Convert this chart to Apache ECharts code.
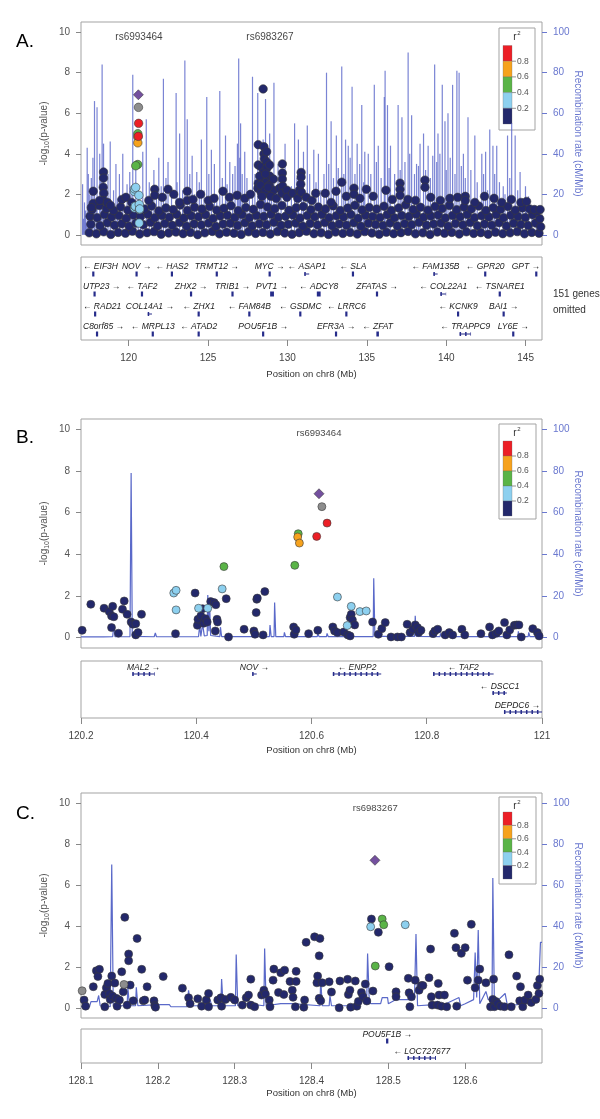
<!DOCTYPE html>
<html>
<head>
<meta charset="utf-8">
<script src="https://cdn.jsdelivr.net/npm/echarts@6/dist/echarts.min.js"></script>
<style>
html, body { margin: 0; padding: 0; background: #fff; }
#main { width: 600px; height: 1119px; }
</style>
</head>
<body>
<div id="main"></div>
<script>
// ---------- data: panel A (chr8 117-146 Mb) ----------
var aNavyRow1 = [[117.52,.10],[117.97,.05],[118.43,.15],[118.88,.02],[119.34,.12],[119.80,.08],[120.24,.18],[120.70,.04],[121.16,.11],[121.60,.16],[122.05,.03],[122.52,.09],[122.98,.14],[123.43,.06],[123.89,.12],[124.35,.01],[124.80,.10],[125.27,.17],[125.72,.05],[126.17,.13],[126.63,.08],[127.09,.02],[127.55,.15],[128.00,.07],[128.46,.12],[128.92,.04],[129.38,.16],[129.83,.09],[130.29,.03],[130.74,.11],[131.20,.18],[131.67,.06],[132.12,.10],[132.58,.02],[133.03,.14],[133.49,.07],[133.95,.12],[134.40,.04],[134.87,.16],[135.32,.09],[135.78,.03],[136.23,.13],[136.69,.06],[137.15,.11],[137.60,.17],[138.06,.05],[138.53,.10],[138.98,.02],[139.44,.14],[139.89,.08],[140.35,.12],[140.82,.04],[141.27,.15],[141.73,.07],[142.18,.11],[142.64,.03],[143.10,.13],[143.56,.06],[144.02,.10],[144.47,.16],[144.93,.05],[145.39,.12],[145.84,.08]];
var aNavyRow2 = [[117.62,.52],[118.20,.45],[118.66,.60],[119.11,.48],[119.57,.55],[120.03,.42],[120.47,.58],[120.93,.50],[121.38,.62],[121.83,.44],[122.28,.56],[122.75,.47],[123.21,.61],[123.66,.43],[124.12,.54],[124.58,.49],[125.03,.59],[125.50,.41],[125.95,.53],[126.40,.57],[126.86,.46],[127.32,.60],[127.78,.44],[128.23,.55],[128.69,.50],[129.15,.62],[129.61,.47],[130.06,.52],[130.52,.58],[130.97,.43],[131.43,.56],[131.90,.49],[132.35,.61],[132.81,.45],[133.26,.54],[133.72,.48],[134.18,.60],[134.63,.42],[135.10,.57],[135.55,.51],[136.01,.46],[136.46,.59],[136.92,.44],[137.38,.55],[137.83,.50],[138.29,.62],[138.76,.47],[139.21,.53],[139.67,.58],[140.12,.43],[140.58,.56],[141.05,.49],[141.50,.61],[141.96,.45],[142.41,.54],[142.87,.48],[143.33,.60],[143.79,.44],[144.25,.57],[144.70,.51],[145.16,.46],[145.62,.58],[145.95,.40]];
var aNavyRow3 = [[117.57,.92],[118.02,.85],[118.48,1.0],[118.93,.88],[119.39,.95],[119.85,.82],[120.29,.98],[120.75,.90],[121.21,1.02],[121.65,.84],[122.10,.96],[122.57,.87],[123.03,1.01],[123.48,.83],[123.94,.94],[124.40,.89],[124.85,.99],[125.32,.81],[125.77,.93],[126.22,.97],[126.68,.86],[127.14,1.0],[127.60,.84],[128.05,.95],[128.51,.90],[128.97,1.02],[129.43,.87],[129.88,.92],[130.34,.98],[130.79,.83],[131.25,.96],[131.72,.89],[132.17,1.01],[132.63,.85],[133.08,.94],[133.54,.88],[134.00,1.0],[134.45,.82],[134.92,.97],[135.37,.91],[135.83,.86],[136.28,.99],[136.74,.84],[137.20,.95],[137.65,.90],[138.11,1.02],[138.58,.87],[139.03,.93],[139.49,.98],[139.94,.83],[140.40,.96],[140.87,.89],[141.32,1.01],[141.78,.85],[142.23,.94],[142.69,.88],[143.15,1.0],[143.61,.84],[144.07,.97],[144.52,.91],[144.98,.86],[145.44,.99],[145.89,.80]];
var aNavyRow4 = [[117.70,1.25],[118.15,1.45],[118.60,1.3],[119.05,1.2],[119.50,1.38],[119.95,1.22],[120.40,1.35],[121.00,1.28],[121.45,1.42],[121.90,1.18],[122.35,1.33],[122.80,1.25],[123.25,1.47],[123.70,1.2],[124.15,1.36],[124.62,1.27],[125.10,1.4],[125.55,1.22],[126.00,1.31],[126.45,1.44],[126.90,1.19],[127.38,1.35],[127.85,1.26],[128.30,1.5],[128.75,1.38],[129.20,1.29],[129.65,1.45],[130.10,1.21],[130.55,1.34],[131.00,1.4],[131.48,1.24],[131.95,1.37],[132.40,1.28],[132.88,1.43],[133.33,1.2],[133.80,1.32],[134.25,1.46],[134.70,1.23],[135.15,1.35],[135.62,1.27],[136.08,1.41],[136.55,1.2],[137.00,1.33],[137.45,1.48],[137.92,1.25],[138.38,1.36],[138.85,1.22],[139.30,1.4],[139.75,1.3],[140.20,1.45],[140.66,1.24],[141.12,1.37],[141.58,1.28],[142.05,1.42],[142.50,1.2],[142.96,1.34],[143.42,1.26],[143.88,1.4],[144.35,1.22],[144.80,1.33],[145.25,1.28],[145.72,1.15]];
var aNavyHigh = [[117.77,2.15],[117.77,1.55],[117.65,1.35],[118.42,3.1],[118.42,2.8],[118.40,2.35],[118.44,2.05],[118.42,1.7],[118.18,1.7],[118.67,1.6],[118.86,1.45],[119.58,1.75],[119.83,1.85],[120.19,1.6],[121.27,1.7],[121.64,2.25],[121.64,1.95],[122.12,1.85],[122.48,2.25],[122.84,2.0],[123.21,1.6],[123.69,2.15],[123.69,1.7],[124.05,1.75],[124.53,2.0],[125.02,1.7],[125.38,1.8],[125.94,2.15],[126.35,1.85],[126.83,1.95],[127.31,1.8],[127.67,2.0],
  [128.16,4.45],[128.16,3.45],[128.16,2.55],[128.14,2.3],[128.35,3.35],[128.35,2.1],[128.52,4.35],[128.52,4.0],[128.54,3.75],[128.52,3.1],[128.50,2.75],[128.69,4.1],[128.69,3.6],[128.71,3.3],[128.69,2.6],[128.88,3.45],[128.88,2.9],[128.86,2.45],[128.88,2.0],[129.12,2.75],[129.12,2.2],[128.25,2.9],[128.30,2.45],[128.60,2.2],[128.78,2.35],[128.95,1.9],[128.62,3.0],[128.40,1.9],[129.30,1.8],[129.50,2.3],[128.47,7.2],
  [129.68,3.5],[129.68,3.05],[129.68,2.75],[129.70,2.4],[129.66,2.05],[129.97,2.2],[129.97,1.85],[130.33,2.05],[130.65,1.8],[130.75,2.2],[130.86,3.08],[130.86,2.85],[130.84,2.5],[130.88,2.1],[131.18,1.85],[131.54,1.7],[131.78,2.05],[132.38,2.05],[132.75,1.6],[133.06,2.15],[133.42,2.6],[133.71,1.9],[134.19,2.3],[134.19,2.0],[134.56,1.8],[134.97,2.25],[135.40,1.9],[136.20,2.2],[136.61,1.75],[137.09,2.55],[137.09,2.25],[137.09,1.95],[137.58,1.75],[138.06,1.7],[138.66,2.7],[138.66,2.35],[139.02,1.85],[139.63,1.7],[140.23,1.8],[140.72,1.85],[141.20,1.9],[141.20,1.7],[141.80,1.6],[142.41,1.9],[143.01,1.8],[143.49,1.6],[144.10,1.75],[144.70,1.6],[145.06,1.65],[145.55,1.25],[145.91,1.25]];
var aRecomb = [[117.10,25],[117.22,16],[117.39,43],[117.46,30],[117.85,66],[118.01,63],[118.18,40],[118.33,84],[118.42,45],[118.84,46],[119.20,35],[119.42,30],[119.63,40],[120.07,31],[120.26,79],[120.45,32],[120.89,41],[121.11,57],[121.59,32],[121.90,38],[122.19,77],[122.48,36],[122.99,70],[123.21,50],[123.54,86],[123.69,57],[124.00,39],[124.29,31],[124.58,47],[124.92,68],[125.21,42],[125.40,35],[125.74,71],[126.10,49],[126.37,36],[126.93,87],[127.05,55],[127.31,41],[127.80,78],[128.13,70],[128.47,47],[128.62,67],[128.88,50],[129.15,75],[129.41,35],[129.85,45],[130.45,55],[130.69,47],[131.01,41],[131.25,54],[131.66,42],[131.95,40],[132.46,80],[132.75,56],[133.08,49],[133.42,83],[133.66,47],[133.83,44],[134.07,73],[134.39,45],[134.68,64],[134.87,41],[135.09,40],[135.47,74],[135.72,44],[136.10,68],[136.15,81],[136.30,64],[136.49,44],[136.97,64],[137.21,58],[137.60,90],[137.82,59],[138.13,35],[138.35,45],[138.57,50],[138.86,44],[139.15,39],[139.27,84],[139.48,50],[139.75,74],[139.92,56],[140.11,60],[140.40,74],[140.67,81],[140.81,80],[141.08,40],[141.37,58],[141.80,49],[142.24,40],[142.48,41],[142.74,52],[142.94,44],[143.18,44],[143.59,24],[143.86,49],[144.12,55],[144.34,49],[144.65,31],[144.99,24],[145.18,19],[145.67,11],
  [117.15,8],[117.28,12],[117.33,6],[117.55,20],[117.65,28],[117.75,38],[117.95,18],[118.25,28],[118.55,24],[118.70,30],[119.05,22],[119.30,18],[119.90,25],[120.15,20],[120.60,22],[120.75,15],[121.30,26],[121.45,20],[121.75,18],[122.05,24],[122.35,28],[122.70,20],[123.05,26],[123.40,22],[123.85,30],[124.15,20],[124.45,26],[124.75,22],[125.05,30],[125.55,20],[125.90,28],[126.20,25],[126.55,30],[126.70,34],[126.85,45],[127.00,38],[127.15,30],[127.45,28],[127.60,22],[127.95,30],[128.25,35],[128.35,28],[128.55,40],[128.75,32],[129.00,28],[129.30,22],[129.60,26],[130.00,20],[130.25,24],[130.60,28],[130.90,22],[131.40,30],[131.80,26],[132.10,22],[132.30,30],[132.60,35],[132.90,28],[133.20,33],[133.55,30],[133.95,38],[134.25,30],[134.55,35],[134.80,26],[135.25,30],[135.60,36],[135.90,28],[136.40,33],[136.75,30],[137.10,32],[137.40,36],[137.70,40],[138.00,30],[138.25,34],[138.70,32],[139.00,28],[139.40,36],[139.60,40],[140.00,32],[140.25,38],[140.55,30],[140.95,34],[141.20,28],[141.55,32],[141.95,26],[142.35,30],[142.60,22],[143.05,30],[143.35,26],[143.70,20],[144.00,28],[144.50,22],[144.80,18],[145.05,15],[145.40,12],[145.85,10]];
var aGenes = [
  ['EIF3H',117.76,117.79,0,-1],['NOV',120.49,120.51,0,1],['HAS2',122.71,122.74,0,-1],['TRMT12',125.54,125.56,0,1],['MYC',128.87,128.89,0,1],['ASAP1',131.06,131.37,0,-1],['SLA',134.11,134.14,0,-1],['FAM135B',139.19,139.46,0,-1],['GPR20',142.44,142.47,0,-1],['GPT',145.66,145.68,0,1],
  ['UTP23',117.84,117.87,1,1],['TAF2',120.82,120.86,1,-1],['ZHX2',123.88,123.98,1,1],['TRIB1',126.53,126.55,1,1],['PVT1',128.91,129.15,1,1],['ADCY8',131.85,132.09,1,-1],['ZFATAS',135.63,135.65,1,1],['COL22A1',139.63,139.99,1,-1],['TSNARE1',143.33,143.41,1,-1],
  ['RAD21',117.88,117.90,2,-1],['COL14A1',121.20,121.47,2,1],['ZHX1',124.40,124.42,2,-1],['FAM84B',127.59,127.61,2,-1],['GSDMC',130.80,130.82,2,-1],['LRRC6',133.67,133.75,2,-1],['KCNK9',140.73,140.76,2,-1],['BAI1',143.60,143.63,2,1],
  ['C8orf85',118.00,118.02,3,1],['MRPL13',121.50,121.54,3,-1],['ATAD2',124.38,124.44,3,-1],['POU5F1B',128.46,128.48,3,1],['EFR3A',133.03,133.09,3,1],['ZFAT',135.60,135.76,3,-1],['TRAPPC9',140.84,141.56,3,-1],['LY6E',144.21,144.23,3,1]
];
var aTicks = [120, 125, 130, 135, 140, 145];
var aLeadLabels = [{ name: 'rs6993464', value: [120.65, 9.75] }, { name: 'rs6983267', value: [128.90, 9.75] }];

// ---------- data: panel B (chr8 120.2-121 Mb) ----------
var bNavy = [[120.202,.35],[120.217,1.60],[120.240,1.41],[120.249,1.25],[120.253,1.04],[120.255,1.50],[120.257,1.0],[120.253,.48],[120.265,.21],[120.272,1.36],[120.275,1.76],[120.280,1.12],[120.287,.75],[120.290,.64],[120.295,.67],[120.295,.13],[120.299,.24],[120.305,1.12],[120.364,.19],[120.398,2.14],[120.402,.59],[120.403,.88],[120.408,1.04],[120.411,1.39],[120.413,.69],[120.416,.91],[120.419,.75],[120.425,1.73],[120.431,1.68],[120.434,1.58],[120.436,.88],[120.437,.75],[120.433,.32],[120.452,1.87],[120.456,.03],[120.483,.40],[120.500,.32],[120.502,.16],[120.504,1.2],[120.505,1.84],[120.506,1.9],[120.516,.13],[120.519,2.21],[120.569,.51],[120.570,.16],[120.573,.37],[120.595,.19],[120.611,.35],[120.637,.51],[120.640,.32],[120.645,.24],[120.656,.27],[120.663,.13],[120.667,.96],[120.669,1.12],[120.671,.85],[120.667,.08],[120.675,.61],[120.706,.75],[120.716,.16],[120.722,.43],[120.728,.72],[120.738,.03],[120.749,.03],[120.756,.03],[120.766,.64],[120.771,.24],[120.776,.40],[120.780,.61],[120.784,.48],[120.786,.24],[120.790,.35],[120.811,.19],[120.814,.32],[120.819,.40],[120.832,.13],[120.839,.24],[120.845,.13],[120.861,.40],[120.866,.13],[120.894,.19],[120.909,.51],[120.914,.13],[120.921,.21],[120.925,.32],[120.935,.72],[120.939,.13],[120.944,.37],[120.952,.59],[120.956,.61],[120.960,.61],[120.964,.03],[120.984,.43],[120.992,.24],[120.995,.08]];
var bLightBlue = [[120.361,2.14],[120.365,2.27],[120.365,1.33],[120.445,2.34],[120.404,1.41],[120.420,1.41],[120.645,1.95],[120.669,1.50],[120.684,1.25],[120.695,1.28],[120.662,.58]];
var bGreen = [[120.577,4.99],[120.571,3.47],[120.448,3.41]];
var bOrange = [[120.576,4.83],[120.579,4.54]];
var bRed = [[120.609,4.86],[120.627,5.50]];
var bGrey = [[120.618,6.29]];
var bLead = [[120.613,6.91]];
var bRecomb = [[120.2,.3],[120.213,.3],[120.215,1.2],[120.217,.3],[120.235,.3],[120.237,1],[120.239,.3],[120.255,.4],[120.257,6],[120.259,.4],[120.285,.5],[120.287,79],[120.289,.6],[120.327,.4],[120.329,2.2],[120.331,.4],[120.404,.5],[120.406,6],[120.408,.6],[120.411,6.5],[120.414,.8],[120.419,1],[120.420,20.5],[120.422,3],[120.423,18],[120.425,1],[120.441,.5],[120.442,5],[120.444,.5],[120.527,.5],[120.528,6],[120.530,.5],[120.535,.5],[120.536,16.8],[120.538,.5],[120.552,.5],[120.553,2.5],[120.555,.5],[120.610,.5],[120.611,2],[120.613,.5],[120.626,.5],[120.627,2],[120.629,.5],[120.663,.5],[120.664,3],[120.666,.5],[120.707,.5],[120.708,28.5],[120.710,.6],[120.779,.6],[120.780,10.5],[120.782,.6],[120.823,.5],[120.824,2],[120.826,.5],[120.958,.5],[120.959,3],[120.961,.5],[120.976,.5],[120.977,2.5],[120.979,.5],[121.0,.5]];
var bGenes = [['MAL2',120.289,120.328,0,1],['NOV',120.497,120.505,0,1],['ENPP2',120.637,120.721,0,-1],['TAF2',120.811,120.916,0,-1],['DSCC1',120.914,120.939,1,-1],['DEPDC6',120.934,121.05,2,1]];
var bTicks = [120.2, 120.4, 120.6, 120.8, 121];
var bLeadLabels = [{ name: 'rs6993464', value: [120.613, 9.8] }];

// ---------- data: panel C (chr8 128.1-128.7 Mb) ----------
var cNavy = [[128.104,.38],[128.106,.08],[128.116,1.03],[128.120,1.81],[128.122,1.53],[128.124,1.88],[128.131,.65],[128.131,.05],[128.133,.98],[128.135,1.19],[128.137,.69],[128.138,.41],[128.140,1.55],[128.141,.57],[128.144,1.21],[128.146,.46],[128.147,.08],[128.150,.38],[128.153,1.76],[128.155,.78],[128.157,4.42],[128.160,.13],[128.162,2.63],[128.162,2.30],[128.164,1.11],[128.168,.34],[128.173,3.39],[128.179,1.88],[128.181,.34],[128.183,.38],[128.186,1.03],[128.195,.34],[128.196,.11],[128.197,.03],[128.207,1.53],[128.232,.96],[128.240,.49],[128.242,.20],[128.252,.44],[128.257,.08],[128.263,.38],[128.266,.70],[128.266,.05],[128.278,.38],[128.282,.49],[128.283,.08],[128.288,.41],[128.295,.51],[128.300,.38],[128.310,.13],[128.315,.49],[128.318,.62],[128.321,1.40],[128.321,.13],[128.326,.05],[128.335,.62],[128.338,.86],[128.340,.67],[128.345,.38],[128.346,.05],[128.350,1.35],[128.351,1.89],[128.357,.75],[128.360,1.71],[128.364,.65],[128.365,1.84],[128.372,1.29],[128.375,.86],[128.376,.51],[128.379,.05],[128.380,1.29],[128.380,1.78],[128.390,.03],[128.391,.38],[128.393,3.20],[128.404,3.47],[128.407,1.22],[128.408,1.55],[128.410,2.54],[128.411,3.39],[128.410,.46],[128.412,.34],[128.414,1.22],[128.423,1.27],[128.426,.77],[128.436,0],[128.437,1.31],[128.447,1.39],[128.448,.65],[128.450,.86],[128.451,.03],[128.457,1.31],[128.459,.08],[128.461,.31],[128.465,.75],[128.467,.54],[128.470,1.16],[128.472,.33],[128.478,4.34],[128.480,.82],[128.487,3.69],[128.501,2.01],[128.510,.78],[128.510,.54],[128.526,1.44],[128.527,.73],[128.528,.05],[128.530,.54],[128.535,1.35],[128.540,.86],[128.543,1.09],[128.545,1.09],[128.553,1.47],[128.555,2.87],[128.556,.54],[128.557,.13],[128.564,.13],[128.565,1.19],[128.566,.62],[128.569,.08],[128.573,.62],[128.576,.05],[128.586,3.64],[128.588,2.94],[128.589,.08],[128.595,2.66],[128.600,2.94],[128.603,1.35],[128.608,4.08],[128.613,.98],[128.617,1.35],[128.619,1.89],[128.627,1.22],[128.633,.05],[128.636,.41],[128.637,1.40],[128.638,.05],[128.640,.31],[128.642,.21],[128.646,.08],[128.651,.05],[128.657,2.59],[128.660,.05],[128.667,1.55],[128.671,.34],[128.672,1.03],[128.675,.05],[128.678,.38],[128.682,.62],[128.686,.26],[128.692,.41],[128.694,1.09],[128.697,1.40],[128.696,.70]];
var cLightBlue = [[128.477,3.96],[128.522,4.06]];
var cGreen = [[128.492,4.34],[128.494,4.06],[128.483,2.04]];
var cGrey = [[128.1015,.83],[128.156,1.14]];
var cLead = [[128.4826,7.21]];
var cRecomb = [[128.1,.5],[128.111,.5],[128.113,3],[128.121,3],[128.123,6],[128.125,1],[128.138,.5],[128.14,70],[128.142,1],[128.16,1],[128.161,10],[128.163,1],[128.171,1],[128.172,10],[128.174,1],[128.2,1.5],[128.215,1.5],[128.217,.5],[128.238,.5],[128.240,8.5],[128.243,1],[128.266,1],[128.268,4],[128.27,1],[128.282,1],[128.283,14],[128.285,1],[128.301,1],[128.302,26],[128.304,1],[128.315,2],[128.338,1],[128.339,29],[128.341,1],[128.36,2],[128.375,2],[128.411,1],[128.412,14],[128.414,1],[128.423,1],[128.424,6],[128.426,1],[128.458,1],[128.46,3],[128.466,3],[128.467,6],[128.472,6],[128.473,26.5],[128.475,5],[128.477,2],[128.49,2],[128.492,5],[128.499,5],[128.5,2],[128.51,4],[128.534,4],[128.536,36],[128.538,1],[128.56,1.5],[128.575,2],[128.592,5],[128.594,1],[128.6,2],[128.611,4],[128.613,27],[128.615,5],[128.617,38],[128.619,2],[128.627,8],[128.63,4],[128.635,4],[128.636,63.5],[128.638,2],[128.652,7],[128.655,1],[128.68,2],[128.695,3],[128.698,32],[128.7,32]];
var cGenes = [['POU5F1B',128.497,128.5,0,1],['LOC727677',128.525,128.562,1,-1]];
var cTicks = [128.1, 128.2, 128.3, 128.4, 128.5, 128.6];
var cLeadLabels = [{ name: 'rs6983267', value: [128.483, 9.76] }];

var ldTicks = ['0.8', '0.6', '0.4', '0.2'];

// ---------- style ----------
var FONT = "'Liberation Sans', Arial, sans-serif";
var NAVY = '#23286b', LBLUE = '#8dd0ef', GREEN = '#5ab447', ORANGE = '#f6a21d', RED = '#ec1f26', GREY = '#8d8d8d', PURPLE = '#74509f';
var ldColors = [RED, ORANGE, GREEN, LBLUE, NAVY];
var RECOMB = '#5a69c9';
var RECOMB_TXT = '#6a78cf';
var GENE_COL = '#262c8a';

var chart = echarts.init(document.getElementById('main'));

var measureCtx = document.createElement('canvas').getContext('2d');
function textWidth(t, font) { measureCtx.font = font; return measureCtx.measureText(t).width; }

// gene track: thin line + exon blocks, italic label with strand arrow above
function geneRenderer(genes, fontSize, gap) {
  var font = 'italic ' + fontSize + 'px ' + FONT;
  return function (params, api) {
    var g = genes[params.dataIndex];
    var cs = params.coordSys;
    var p0 = api.coord([g[1], g[3]]);
    var p1 = api.coord([g[2], g[3]]);
    var x0 = Math.max(p0[0], cs.x), x1 = Math.min(p1[0], cs.x + cs.width);
    var y = p0[1];
    var kids = [];
    if (x1 - x0 < 4) {
      var w = Math.max(2.2, x1 - x0);
      kids.push({ type: 'rect', shape: { x: (x0 + x1) / 2 - w / 2, y: y - 2.5, width: w, height: 5 }, style: { fill: GENE_COL } });
    } else {
      kids.push({ type: 'line', shape: { x1: x0, y1: y, x2: x1, y2: y }, style: { stroke: GENE_COL, lineWidth: 1 } });
      kids.push({ type: 'line', shape: { x1: x0, y1: y, x2: x1, y2: y }, style: { stroke: GENE_COL, lineWidth: 4, lineDash: [1.5, 4] } });
    }
    var txt = g[4] > 0 ? g[0] + ' \u2192' : '\u2190 ' + g[0];
    var tw = textWidth(txt, font);
    var cx = (x0 + x1) / 2;
    cx = Math.min(Math.max(cx, cs.x + tw / 2 + 2), cs.x + cs.width - tw / 2 - 2);
    kids.push({ type: 'text', style: { text: txt, x: cx, y: y - gap, align: 'center', verticalAlign: 'middle', font: font, fill: '#222' } });
    return { type: 'group', children: kids };
  };
}

var panels = [
  { plot: { top: 22, height: 223 }, gene: { top: 257, height: 83 }, x: [117.0, 146.03], geneY: [-0.85, 3.3], ticks: aTicks, nameGap: 29, geneGap: 7 },
  { plot: { top: 419, height: 229 }, gene: { top: 661, height: 57 }, x: [120.2, 121.0], geneY: [-0.684, 2.316], ticks: bTicks, nameGap: 27, geneGap: 6 },
  { plot: { top: 793, height: 225 }, gene: { top: 1029, height: 34 }, x: [128.1, 128.7], geneY: [-0.706, 1.294], ticks: cTicks, nameGap: 25, geneGap: 6 }
];

var grids = [], xAxes = [], yAxes = [];
panels.forEach(function (p) {
  grids.push({ left: 81, width: 461, top: p.plot.top, height: p.plot.height, show: true, borderColor: '#a3a3a3', borderWidth: 1 });
  grids.push({ left: 81, width: 461, top: p.gene.top, height: p.gene.height, show: true, borderColor: '#a3a3a3', borderWidth: 1 });
  var gi = grids.length - 2;
  xAxes.push({ type: 'value', gridIndex: gi, min: p.x[0], max: p.x[1], show: false });
  xAxes.push({
    type: 'value', gridIndex: gi + 1, min: p.x[0], max: p.x[1], position: 'bottom',
    axisLine: { show: false, onZero: false },
    axisTick: { show: true, length: 6, customValues: p.ticks, lineStyle: { color: '#888' } },
    axisLabel: { customValues: p.ticks, formatter: function (v) { return String(v); }, margin: 13, fontSize: 10, color: '#444', fontFamily: FONT },
    splitLine: { show: false },
    name: 'Position on chr8 (Mb)', nameLocation: 'middle', nameGap: p.nameGap,
    nameTextStyle: { fontSize: 9.5, color: '#333', fontFamily: FONT }
  });
  yAxes.push({
    type: 'value', gridIndex: gi, min: -0.5, max: 10.5, position: 'left',
    axisLine: { show: false, onZero: false },
    axisTick: { show: true, length: 5, customValues: [0, 2, 4, 6, 8, 10], lineStyle: { color: '#888' } },
    axisLabel: { customValues: [0, 2, 4, 6, 8, 10], margin: 11, fontSize: 10, color: '#555', fontFamily: FONT },
    splitLine: { show: false },
    name: '-log{s|10}(p-value)', nameLocation: 'middle', nameGap: 30, nameRotate: 90, nameMoveOverlap: false,
    nameTextStyle: { fontSize: 10, color: '#555', fontFamily: FONT, rich: { s: { fontSize: 7, color: '#555', padding: [6, 0, 0, 0] } } }
  });
  yAxes.push({
    type: 'value', gridIndex: gi, min: -5, max: 105, position: 'right',
    axisLine: { show: false, onZero: false },
    axisTick: { show: true, length: 5, customValues: [0, 20, 40, 60, 80, 100], lineStyle: { color: RECOMB_TXT } },
    axisLabel: { customValues: [0, 20, 40, 60, 80, 100], margin: 11, fontSize: 10, color: RECOMB_TXT, fontFamily: FONT },
    splitLine: { show: false },
    name: 'Recombination rate (cM/Mb)', nameLocation: 'middle', nameGap: 31, nameRotate: -90, nameMoveOverlap: false,
    nameTextStyle: { fontSize: 10, color: RECOMB_TXT, fontFamily: FONT }
  });
  yAxes.push({ type: 'value', gridIndex: gi + 1, min: p.geneY[0], max: p.geneY[1], inverse: true, show: false });
});

function pts(data, xi, yi, color, size, symbol) {
  return {
    type: 'scatter', xAxisIndex: xi, yAxisIndex: yi, data: data, symbol: symbol || 'circle', symbolSize: size,
    itemStyle: { color: color, borderColor: '#3a3a3a', borderWidth: 0.6, opacity: 1 }, silent: true, z: 3
  };
}
function leadLabels(data, xi, yi, size) {
  return {
    type: 'scatter', xAxisIndex: xi, yAxisIndex: yi, data: data, symbolSize: 0, silent: true, z: 4,
    label: { show: true, position: 'inside', formatter: '{b}', fontSize: size, color: '#111', fontFamily: FONT }
  };
}
function recombLine(data, xi, yi) {
  return { type: 'line', xAxisIndex: xi, yAxisIndex: yi, data: data, symbol: 'none', silent: true, z: 2,
    lineStyle: { color: RECOMB, width: 1.2 } };
}
function genes(list, xi, yi, fs, gap) {
  return { type: 'custom', xAxisIndex: xi, yAxisIndex: yi, silent: true, z: 3,
    data: list.map(function (g) { return [g[1], g[2], g[3]]; }), encode: { x: [0, 1], y: 2 },
    renderItem: geneRenderer(list, fs, gap) };
}

var aNavy = aNavyRow1.concat(aNavyRow2, aNavyRow3, aNavyRow4, aNavyHigh);

var series = [
  // A
  { type: 'bar', xAxisIndex: 0, yAxisIndex: 1, data: aRecomb, barWidth: 1.2, silent: true, z: 2,
    itemStyle: { color: 'rgba(84,98,200,0.78)' } },
  pts(aNavy, 0, 0, NAVY, 8.5),
  pts(bLightBlue, 0, 0, LBLUE, 8.5),
  pts(bGreen, 0, 0, GREEN, 8.5),
  pts(bOrange, 0, 0, ORANGE, 8.5),
  pts(bRed, 0, 0, RED, 8.5),
  pts(bGrey, 0, 0, GREY, 8.5),
  pts(bLead, 0, 0, PURPLE, 10, 'diamond'),
  leadLabels(aLeadLabels, 0, 0, 10),
  genes(aGenes, 1, 2, 8.5, panels[0].geneGap),
  // B
  recombLine(bRecomb, 2, 4),
  pts(bNavy, 2, 3, NAVY, 8),
  pts(bLightBlue, 2, 3, LBLUE, 8),
  pts(bGreen, 2, 3, GREEN, 8),
  pts(bOrange, 2, 3, ORANGE, 8),
  pts(bRed, 2, 3, RED, 8),
  pts(bGrey, 2, 3, GREY, 8),
  pts(bLead, 2, 3, PURPLE, 10, 'diamond'),
  leadLabels(bLeadLabels, 2, 3, 9.5),
  genes(bGenes, 3, 5, 8.5, panels[1].geneGap),
  // C
  recombLine(cRecomb, 4, 7),
  pts(cNavy, 4, 6, NAVY, 8),
  pts(cGrey, 4, 6, GREY, 8),
  pts(cLightBlue, 4, 6, LBLUE, 8),
  pts(cGreen, 4, 6, GREEN, 8),
  pts(cLead, 4, 6, PURPLE, 10, 'diamond'),
  leadLabels(cLeadLabels, 4, 6, 9.5),
  genes(cGenes, 5, 8, 8.5, panels[2].geneGap)
];

// r^2 legend boxes
function ldLegend(box) {
  var kids = [];
  kids.push({ type: 'rect', shape: { x: box.x, y: box.y, width: box.w, height: box.h }, style: { fill: '#fff', stroke: '#a3a3a3', lineWidth: 1 } });
  kids.push({ type: 'text', style: { text: 'r', x: box.x + 16, y: box.y + 9, font: '10px ' + FONT, fill: '#333', align: 'center', verticalAlign: 'middle' } });
  kids.push({ type: 'text', style: { text: '2', x: box.x + 20, y: box.y + 5, font: '6px ' + FONT, fill: '#333', align: 'center', verticalAlign: 'middle' } });
  var seg = box.barH / ldColors.length;
  ldColors.forEach(function (c, i) {
    kids.push({ type: 'rect', shape: { x: box.x + 4, y: box.barTop + i * seg, width: 9, height: seg }, style: { fill: c, stroke: '#666', lineWidth: 0.3 } });
  });
  ldTicks.forEach(function (t, i) {
    var yy = box.barTop + (i + 1) * seg;
    kids.push({ type: 'line', shape: { x1: box.x + 13, y1: yy, x2: box.x + 17, y2: yy }, style: { stroke: '#777', lineWidth: 0.8 } });
    kids.push({ type: 'text', style: { text: t, x: box.x + 18, y: yy, font: '8.5px ' + FONT, fill: '#555', verticalAlign: 'middle' } });
  });
  return { type: 'group', children: kids, z: 10 };
}

var graphic = [
  ldLegend({ x: 499, y: 28, w: 36, h: 102, barTop: 45.5, barH: 78.5 }),
  ldLegend({ x: 499, y: 424, w: 37, h: 95, barTop: 441, barH: 75 }),
  ldLegend({ x: 499, y: 797, w: 37, h: 87, barTop: 812, barH: 67 }),
  { type: 'text', x: 16, y: 32, style: { text: 'A.', font: '19px ' + FONT, fill: '#000' } },
  { type: 'text', x: 16, y: 428, style: { text: 'B.', font: '19px ' + FONT, fill: '#000' } },
  { type: 'text', x: 16, y: 804, style: { text: 'C.', font: '19px ' + FONT, fill: '#000' } },
  { type: 'text', x: 553, y: 286, style: { text: '151 genes\nomitted', font: '10px ' + FONT, fill: '#333', lineHeight: 16 } }
];

chart.setOption({
  animation: false,
  backgroundColor: '#fff',
  textStyle: { fontFamily: FONT },
  grid: grids,
  xAxis: xAxes,
  yAxis: yAxes,
  series: series,
  graphic: graphic
});
</script>
</body>
</html>
